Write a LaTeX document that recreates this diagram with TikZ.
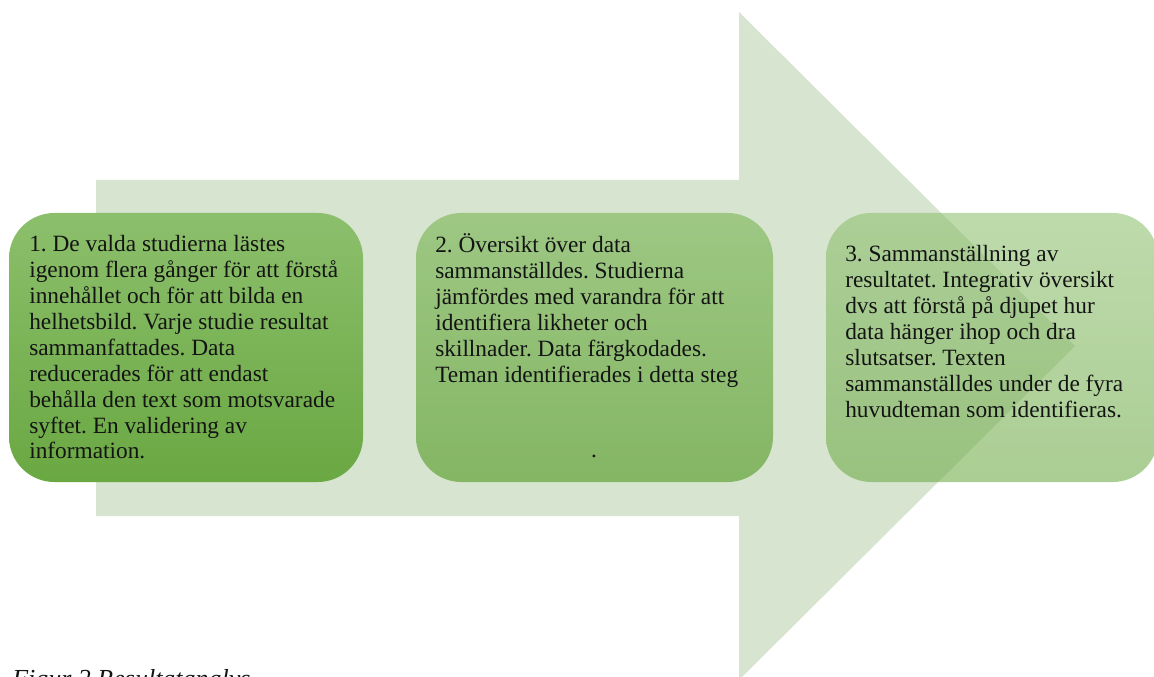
\documentclass[tikz,border=0pt]{standalone}
\usepackage{fontspec}
\setmainfont{Liberation Serif}
\definecolor{arrowfill}{RGB}{215,228,208}
\definecolor{boxtop}{RGB}{140,191,108}
\definecolor{boxbottom}{RGB}{106,168,66}
\definecolor{inktext}{RGB}{20,20,20}
\newcommand{\steplines}[1]{\parbox[t]{260pt}{\raggedright\frenchspacing #1}}
\begin{document}
\begin{tikzpicture}[x=0.75pt,y=-0.75pt,
  stepbox/.style={draw=none, rounded corners=34pt, top color=boxtop, bottom color=boxbottom,
    inner sep=0pt, minimum height=201.75pt},
  steptext/.style={anchor=base west, inner sep=0pt, text=inktext,
    font=\fontsize{17.5}{19.4}\selectfont},
  caption/.style={anchor=base west, inner sep=0pt, text=inktext,
    font=\fontsize{19.5}{21}\selectfont\itshape}]
\useasboundingbox (0,0) rectangle (1154,677);

% the large background arrow
\fill[arrowfill] (96,180) -- (739,180) -- (739,12) -- (1075,346)
  -- (739,680) -- (739,516) -- (96,516) -- cycle;

% the three process steps, increasingly transparent
\node[stepbox, minimum width=265.5pt] (s1) at (186,347.5) {};
\node[stepbox, minimum width=267.75pt, fill opacity=0.76] (s2) at (594.5,347.5) {};
\node[stepbox, minimum width=249pt, fill opacity=0.57] (s3) at (992,347.5) {};

\node[steptext] (t1) at (29,252) {\steplines{%
1. De valda studierna lästes\\
igenom flera gånger för att förstå\\
innehållet och för att bilda en\\
helhetsbild. Varje studie resultat\\
sammanfattades. Data\\
reducerades för att endast\\
behålla den text som motsvarade\\
syftet. En validering av\\
information.}};

\node[steptext] (t2) at (435,253) {\steplines{%
2. Översikt över data\\
sammanställdes. Studierna\\
jämfördes med varandra för att\\
identifiera likheter och\\
skillnader. Data färgkodades.\\
Teman identifierades i detta steg}};
\node[steptext, anchor=base] (t2dot) at (594,457) {.};

\node[steptext] (t3) at (845,262) {\steplines{%
3. Sammanställning av\\
resultatet. Integrativ översikt\\
dvs att förstå på djupet hur\\
data hänger ihop och dra\\
slutsatser. Texten\\
sammanställdes under de fyra\\
huvudteman som identifieras.}};

\node[caption] (cap) at (12,687) {Figur 2 Resultatanalys};
\end{tikzpicture}
\end{document}
